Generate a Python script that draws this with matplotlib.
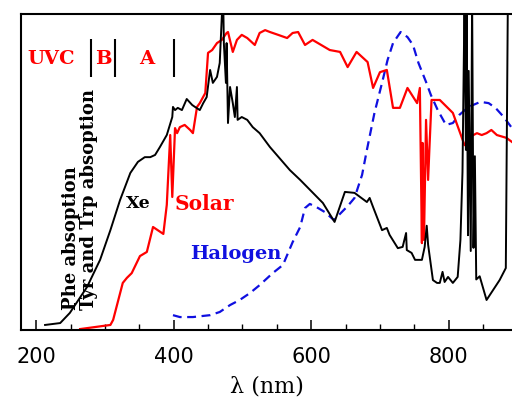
import numpy as np
import matplotlib
matplotlib.use('Agg')
import matplotlib.pyplot as plt
from matplotlib.ticker import MultipleLocator

# spectra (arbitrary intensity, 0 = axis bottom, 1 = axis top)
xe_nm = [213, 235, 249, 274, 293, 308, 322, 337, 348, 358, 366, 373, 380, 390, 398,
         399, 402, 406, 412, 419, 427, 431, 438, 443, 448, 453, 457, 463, 467, 470,
         472, 473, 476, 477, 479, 482, 486, 489, 492, 493, 499, 507, 515, 525, 540,
         569, 584, 617, 634, 649, 663, 681, 685, 690, 703, 710, 714, 726, 733, 738,
         739, 746, 751, 761, 765, 768, 770, 777, 783, 787, 791, 794, 799, 806, 813,
         817, 820, 823, 825, 826, 828, 829, 832, 834, 836, 838, 840, 845, 855, 874,
         883, 886, 888]
xe_val = [0.016, 0.022, 0.054, 0.136, 0.222, 0.316, 0.411, 0.497, 0.532, 0.547, 0.547,
          0.554, 0.579, 0.617, 0.674, 0.706, 0.696, 0.703, 0.696, 0.731, 0.712, 0.706,
          0.696, 0.718, 0.737, 0.823, 0.782, 0.801, 0.845, 0.991, 1.05, 0.908, 0.782,
          0.908, 0.655, 0.769, 0.718, 0.674, 0.769, 0.665, 0.674, 0.665, 0.642, 0.623,
          0.579, 0.506, 0.475, 0.402, 0.342, 0.437, 0.434, 0.405, 0.418, 0.389, 0.316,
          0.323, 0.301, 0.259, 0.263, 0.307, 0.253, 0.244, 0.222, 0.222, 0.263, 0.330,
          0.270, 0.158, 0.149, 0.149, 0.184, 0.152, 0.168, 0.149, 0.168, 0.285, 0.50,
          1.05, 0.57, 1.05, 0.30, 0.82, 0.25, 1.05, 0.26, 0.55, 0.16, 0.17, 0.095,
          0.158, 0.196, 1.05, 1.05]

solar_nm = [264, 308, 312, 326, 332, 339, 351, 361, 370, 385, 390, 395, 398, 402, 405,
            409, 416, 424, 428, 434, 438, 446, 450, 456, 463, 470, 477, 479, 486, 492,
            499, 507, 518, 525, 533, 540, 552, 565, 573, 581, 591, 602, 627, 642, 653,
            666, 682, 690, 700, 710, 719, 729, 740, 754, 758, 761, 762, 764, 767, 770,
            772, 775, 787, 806, 823, 831, 841, 848, 855, 862, 870, 884, 892]
solar_val = [0.003, 0.016, 0.032, 0.149, 0.165, 0.180, 0.234, 0.247, 0.326, 0.304,
             0.396, 0.617, 0.421, 0.639, 0.623, 0.642, 0.649, 0.633, 0.623, 0.706,
             0.718, 0.750, 0.877, 0.886, 0.908, 0.918, 0.940, 0.943, 0.880, 0.918,
             0.934, 0.924, 0.902, 0.940, 0.949, 0.943, 0.934, 0.924, 0.940, 0.943,
             0.902, 0.918, 0.886, 0.880, 0.832, 0.880, 0.848, 0.766, 0.816, 0.823,
             0.703, 0.703, 0.766, 0.718, 0.766, 0.275, 0.592, 0.285, 0.665, 0.475,
             0.579, 0.728, 0.728, 0.687, 0.585, 0.611, 0.623, 0.617, 0.623, 0.633,
             0.617, 0.608, 0.595]

halogen_nm = [399, 409, 428, 453, 467, 482, 496, 511, 525, 544, 559, 565, 573, 584,
              591, 598, 610, 620, 633, 643, 653, 663, 674, 681, 692, 703, 711, 719,
              730, 740, 748, 756, 767, 774, 784, 796, 806, 815, 829, 846, 858, 868,
              880, 892]
halogen_val = [0.047, 0.041, 0.041, 0.047, 0.057, 0.079, 0.095, 0.117, 0.142, 0.180,
               0.206, 0.237, 0.278, 0.326, 0.386, 0.399, 0.386, 0.373, 0.348, 0.370,
               0.392, 0.418, 0.491, 0.570, 0.687, 0.782, 0.854, 0.908, 0.943, 0.927,
               0.902, 0.845, 0.785, 0.744, 0.696, 0.649, 0.655, 0.680, 0.706, 0.722,
               0.718, 0.703, 0.674, 0.639]

# UV band edges (nm) and band names centred between them
band_edges = [280, 315, 400]
band_names = ['UVC', 'B', 'A']
band_name_nm = [222, 298, 361]

SERIF = 'DejaVu Serif'
BLUE = '#1010e0'

fig = plt.figure(figsize=(5.12, 4.12), dpi=100)
ax = fig.add_axes([0.041, 0.199, 0.959, 0.767])

ax.plot(halogen_nm, halogen_val, color=BLUE, lw=1.6, dashes=(4, 2.5))
ax.plot(solar_nm, solar_val, color='red', lw=1.6)
ax.plot(xe_nm, xe_val, color='black', lw=1.4)

ax.vlines(band_edges, 0.80, 0.92, color='black', lw=1.5)
for name, x in zip(band_names, band_name_nm):
    ax.text(x, 0.858, name, color='red', fontsize=14, family=SERIF, weight='bold',
            ha='center', va='center')

txt = dict(family=SERIF, weight='bold', va='center')
ax.text(349, 0.40, 'Xe', color='black', fontsize=12.5, ha='center', **txt)
ax.text(401, 0.40, 'Solar', color='red', fontsize=14.5, ha='left', **txt)
ax.text(490, 0.24, 'Halogen', color=BLUE, fontsize=14, ha='center', **txt)
ax.text(264, 0.063, 'Phe absoption\nTyr and Trp absoption', rotation=90,
        fontsize=13, family=SERIF, weight='bold', ha='center', va='bottom',
        multialignment='left', linespacing=1.0)

ax.set_xlim(178, 892)
ax.set_ylim(0, 1)
ax.xaxis.set_major_locator(MultipleLocator(200))
ax.xaxis.set_minor_locator(MultipleLocator(50))
ax.set_yticks([])
ax.tick_params(axis='x', which='major', direction='in', length=7, width=1.1,
               labelsize=15, pad=12)
ax.tick_params(axis='x', which='minor', direction='in', length=4, width=1.0)
ax.spines['right'].set_visible(False)
for s in ('left', 'top', 'bottom'):
    ax.spines[s].set_linewidth(1.5)

ax.set_xlabel('λ (nm)', fontsize=16, family=SERIF, labelpad=6)

fig.savefig('out.png', dpi=100)
